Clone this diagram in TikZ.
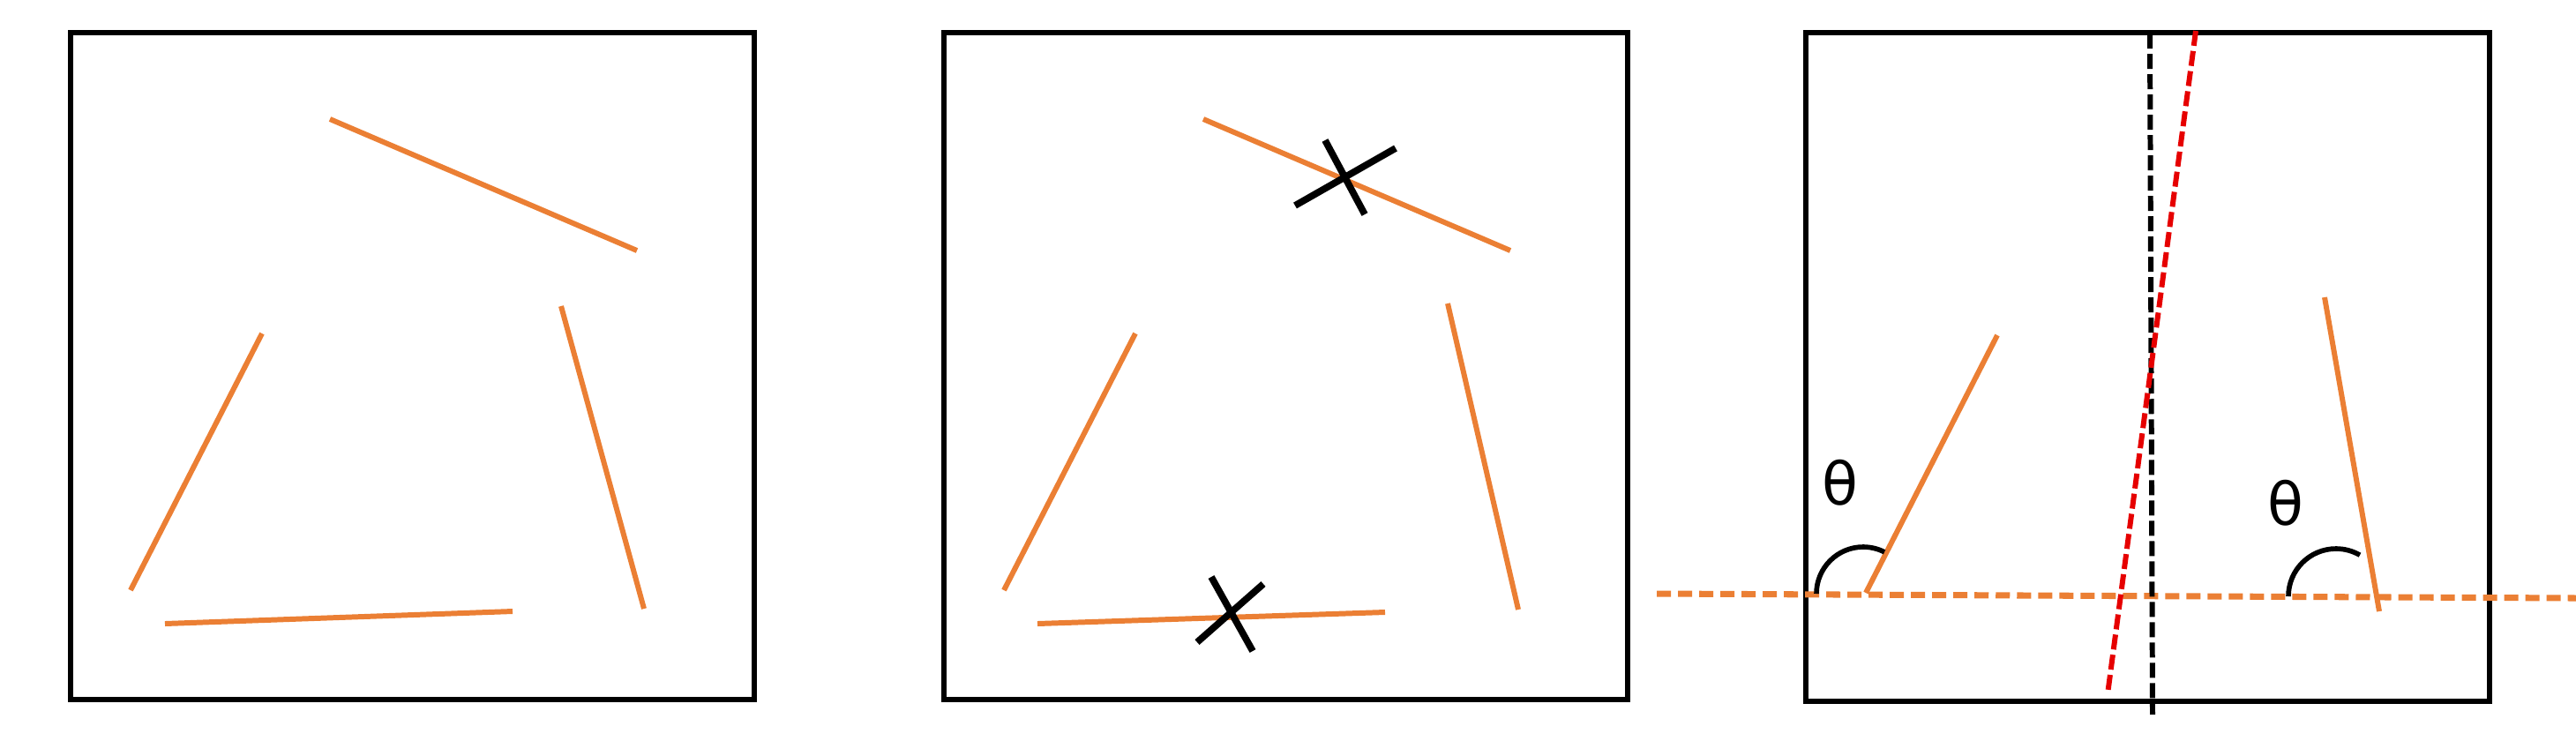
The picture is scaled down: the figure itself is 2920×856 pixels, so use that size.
\documentclass[tikz,border=0pt]{standalone}
\usepackage{fontspec}
\newfontfamily\thetafont{DejaVu Sans}
\definecolor{segorange}{RGB}{235,127,52}
\definecolor{cutred}{RGB}{230,0,0}
\tikzset{
  frame/.style={draw=black, line width=1.8pt},
  seg/.style={draw=segorange, line width=1.7pt},
  cross/.style={draw=black, line width=2.2pt},
  arcmark/.style={draw=black, line width=1.6pt},
  horizon/.style={draw=segorange, line width=2pt, dash pattern=on 0.16cm off 0.08cm},
  vaxis/.style={draw=black, line width=1.7pt, dash pattern=on 0.17cm off 0.06cm},
  raxis/.style={draw=cutred, line width=1.7pt, dash pattern=on 0.17cm off 0.06cm},
  anglabel/.style={inner sep=0pt, font=\thetafont\fontsize{19}{21}\selectfont}
}
\begin{document}
\begin{tikzpicture}[x=0.01cm, y=-0.01cm]
\useasboundingbox (0,0) rectangle (2920,856);
% ---------- panel 1 ----------
\draw[frame] (80,37) rectangle (855,793);
\coordinate (a1) at (374,135); \coordinate (a2) at (722,284);
\coordinate (b1) at (148,669); \coordinate (b2) at (297,378);
\coordinate (c1) at (636,347); \coordinate (c2) at (730,690);
\coordinate (d1) at (187,707); \coordinate (d2) at (581,693);
\draw[seg] (a1) -- (a2);
\draw[seg] (b1) -- (b2);
\draw[seg] (c1) -- (c2);
\draw[seg] (d1) -- (d2);
% ---------- panel 2 ----------
\draw[frame] (1070,37) rectangle (1845,793);
\coordinate (e1) at (1364,135); \coordinate (e2) at (1712,284);
\coordinate (f1) at (1138,669); \coordinate (f2) at (1287,378);
\coordinate (g1) at (1641,344); \coordinate (g2) at (1721,691);
\coordinate (h1) at (1176,707); \coordinate (h2) at (1570,694);
\draw[seg] (e1) -- (e2);
\draw[seg] (f1) -- (f2);
\draw[seg] (g1) -- (g2);
\draw[seg] (h1) -- (h2);
% crosses
\coordinate (x1a) at (1468,233); \coordinate (x1b) at (1582,168);
\coordinate (x1c) at (1502,159); \coordinate (x1d) at (1547,243);
\draw[cross] (x1a) -- (x1b);
\draw[cross] (x1c) -- (x1d);
\coordinate (x2a) at (1357,728); \coordinate (x2b) at (1432,662);
\coordinate (x2c) at (1373,654); \coordinate (x2d) at (1420,738);
\draw[cross] (x2a) -- (x2b);
\draw[cross] (x2c) -- (x2d);
% ---------- panel 3 ----------
\draw[frame] (2047,37) rectangle (2822,795);
\coordinate (p1) at (2115,672); \coordinate (p2) at (2264,380);
\coordinate (q1) at (2635,337); \coordinate (q2) at (2697,693);
\draw[seg] (p1) -- (p2);
\draw[seg] (q1) -- (q2);
% horizontal dashed line
\coordinate (hl) at (1878,673); \coordinate (hr) at (2920,678);
\draw[horizon] (hl) -- (hr);
% vertical black dashed
\coordinate (vt) at (2437,38); \coordinate (vb) at (2440,810);
\draw[vaxis] (vt) -- (vb);
% red dashed
\coordinate (rt) at (2489,35); \coordinate (rb) at (2389,787);
\draw[raxis] (rt) -- (rb);
% angle arcs (y axis flipped)
\draw[arcmark] (2112,673) ++(-53,0) arc[start angle=180, end angle=297, radius=53];
\draw[arcmark] (2648,676) ++(-54,0) arc[start angle=180, end angle=300, radius=54];
% labels
\node[anglabel] (t1) at (2086,547) {θ};
\node[anglabel] (t2) at (2591,570) {θ};
\end{tikzpicture}
\end{document}
